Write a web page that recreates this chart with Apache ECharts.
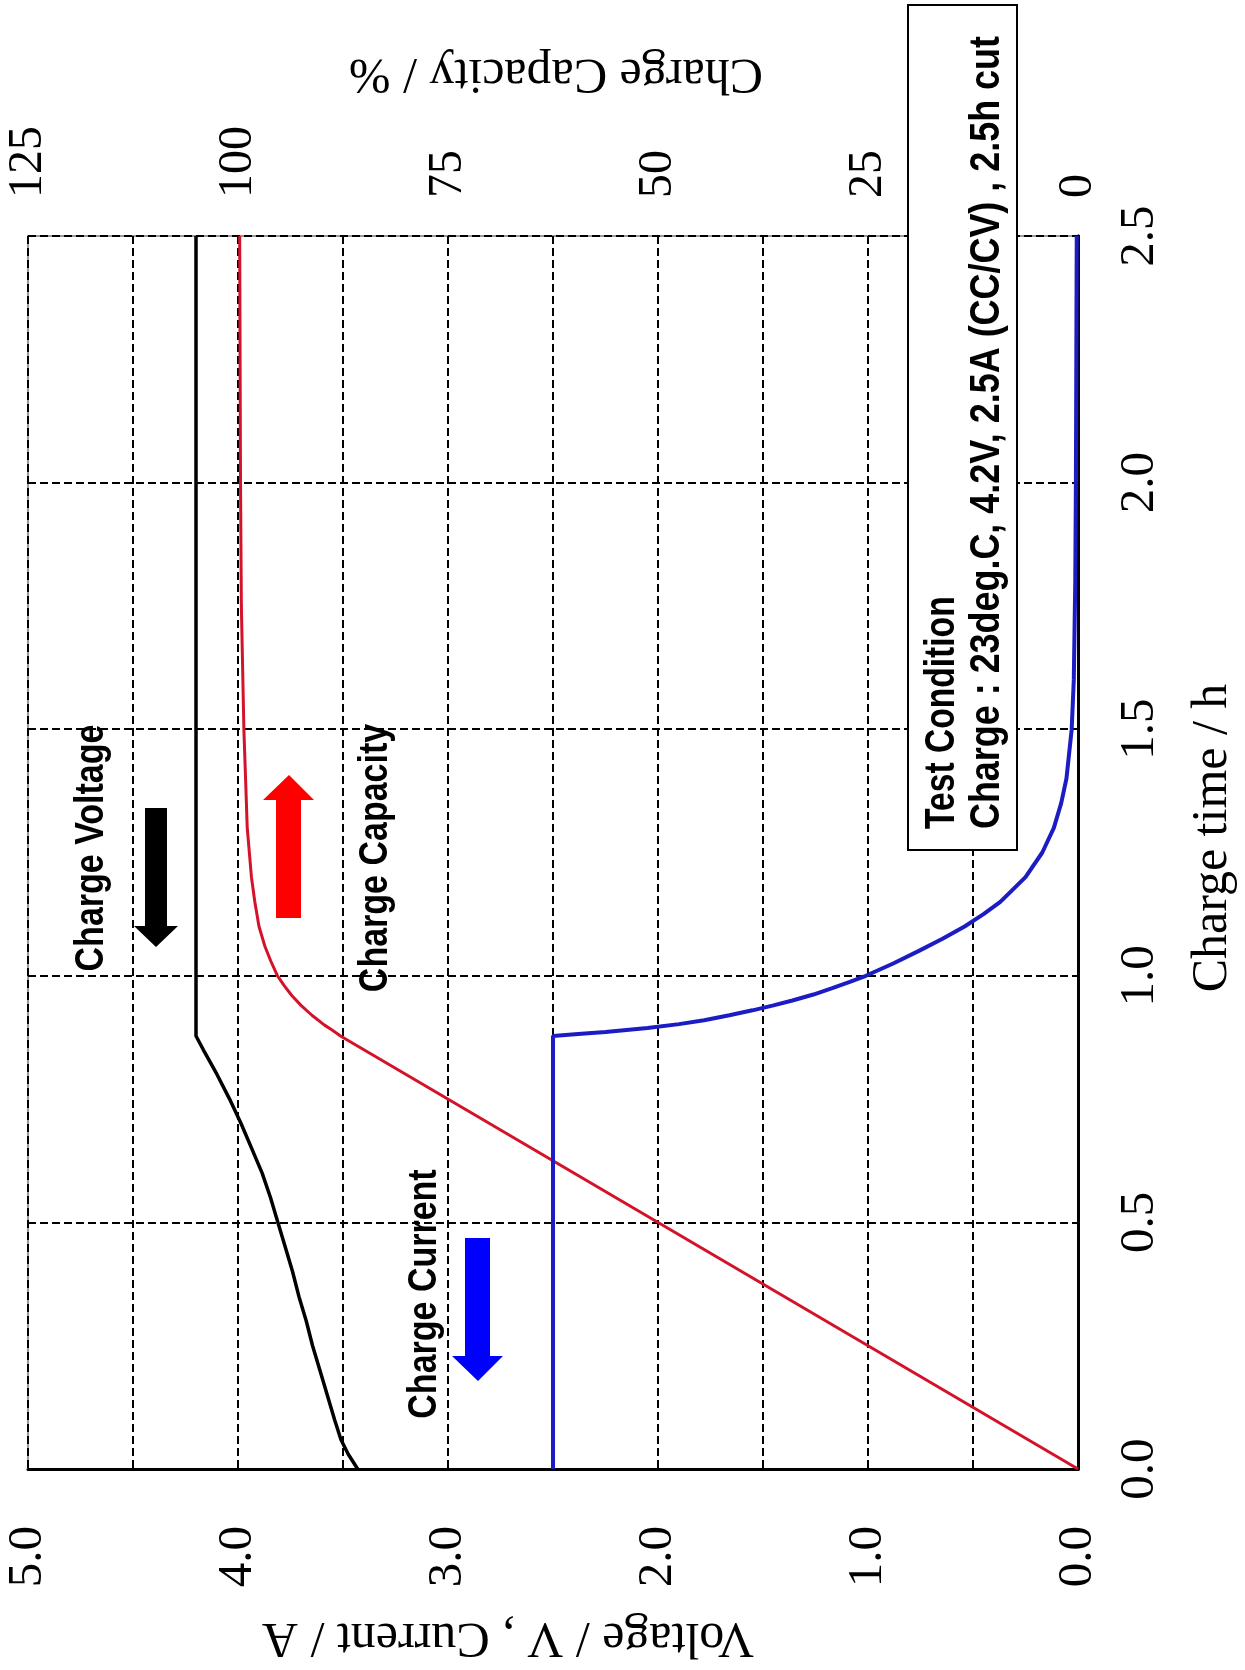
<!DOCTYPE html>
<html>
<head>
<meta charset="utf-8">
<script src="https://cdn.jsdelivr.net/npm/echarts@6/dist/echarts.min.js"></script>
<style>
html,body{margin:0;padding:0;background:#fff;}
#chart{width:1245px;height:1670px;}
</style>
</head>
<body>
<div id="chart"></div>
<script>
// ---- data (time in hours) ----
const timeV    = [0, 0.03, 0.06, 0.1, 0.15, 0.2, 0.25, 0.3, 0.35, 0.4, 0.45, 0.5, 0.55, 0.6, 0.65, 0.7, 0.75, 0.8, 0.85, 0.878, 2.5];
const voltage  = [3.43, 3.475, 3.51, 3.54, 3.575, 3.61, 3.645, 3.675, 3.71, 3.74, 3.775, 3.81, 3.845, 3.885, 3.935, 3.985, 4.04, 4.10, 4.165, 4.20, 4.20];

const timeI    = [0, 0.878, 0.882, 0.886, 0.894, 0.902, 0.91, 0.92, 0.93, 0.94, 0.95, 0.962, 0.975, 0.987, 1.0, 1.025, 1.05, 1.075, 1.1, 1.125, 1.15, 1.2, 1.25, 1.3, 1.35, 1.4, 1.5, 1.6, 1.8, 2.0, 2.5];
const current  = [2.5, 2.5, 2.38, 2.25, 2.05, 1.9, 1.78, 1.66, 1.55, 1.45, 1.36, 1.26, 1.17, 1.09, 1.01, 0.88, 0.76, 0.645, 0.54, 0.45, 0.37, 0.25, 0.17, 0.115, 0.08, 0.055, 0.03, 0.02, 0.013, 0.01, 0.006];

const timeC    = [0, 0.878, 0.89, 0.9, 0.92, 0.94, 0.96, 0.98, 1.0, 1.03, 1.06, 1.1, 1.15, 1.2, 1.3, 1.4, 1.5, 1.75, 2.0, 2.5];
const capacity = [0, 87.8, 88.8, 89.7, 91.2, 92.5, 93.6, 94.5, 95.3, 96.1, 96.8, 97.5, 98.0, 98.4, 98.9, 99.1, 99.3, 99.6, 99.7, 99.8];

const timeTickLabels     = ['0.0', '0.5', '1.0', '1.5', '2.0', '2.5'];
const voltageTickLabels  = ['0.0', '1.0', '2.0', '3.0', '4.0', '5.0'];
const capacityTickLabels = ['0', '25', '50', '75', '100', '125'];

const timeTitle     = 'Charge time / h';
const voltageTitle  = 'Voltage / V , Current / A';
const capacityTitle = 'Charge Capacity / %';
const boxLine1 = 'Test Condition';
const boxLine2 = 'Charge : 23deg.C, 4.2V, 2.5A (CC/CV) , 2.5h cut';

// ---- chart ----
const chart = echarts.init(document.getElementById('chart'), null, {renderer: 'canvas'});
const serif = '"Liberation Serif", "DejaVu Serif", serif';
const sans = '"Liberation Sans", Arial, sans-serif';
const dash = [8, 4];

function txt(x, y, rot, text, opt) {
  return Object.assign({
    type: 'text', x: x, y: y, rotation: rot, z: 101,
    style: Object.assign({
      text: text, x: 0, y: 0, fill: '#000',
      align: 'center', verticalAlign: 'middle',
      textAlign: 'center', textVerticalAlign: 'middle'
    }, opt.style || {})
  }, opt.el || {});
}

const option = {
  animation: false,
  backgroundColor: '#fff',
  grid: {
    left: 28, right: 167, top: 236, bottom: 201,
    containLabel: false, outerBoundsMode: 'none',
    show: true, borderColor: '#9a9a9a', borderWidth: 2, backgroundColor: 'transparent'
  },
  xAxis: [
    { // voltage / current (bottom)
      type: 'value', position: 'bottom', min: 0, max: 5, interval: 0.5, inverse: true,
      axisLine: {show: true, lineStyle: {color: '#000', width: 3}},
      axisTick: {show: false},
      splitLine: {show: true, lineStyle: {color: '#000', width: 2, type: dash}},
      axisLabel: {
        rotate: 90, margin: 57, fontFamily: serif, fontSize: 49, color: '#000',
        formatter: function (v) {
          const r = Math.round(v);
          return Math.abs(v - r) < 1e-6 ? voltageTickLabels[r] : '';
        }
      }
    },
    { // capacity (top)
      type: 'value', position: 'top', min: 0, max: 125, interval: 25, inverse: true,
      axisLine: {show: false}, axisTick: {show: false}, splitLine: {show: false},
      axisLabel: {
        rotate: 90, margin: 38, fontFamily: serif, fontSize: 48, color: '#000',
        formatter: function (v) { return capacityTickLabels[Math.round(v / 25)]; }
      }
    }
  ],
  yAxis: [
    { // time (right)
      type: 'value', position: 'right', min: 0, max: 2.5, interval: 0.5,
      axisLine: {show: true, lineStyle: {color: '#000', width: 3}},
      axisTick: {show: false},
      splitLine: {show: true, lineStyle: {color: '#000', width: 2, type: dash}},
      axisLabel: {
        rotate: 90, margin: 38, fontFamily: serif, fontSize: 49, color: '#000',
        formatter: function (v) { return timeTickLabels[Math.round(v / 0.5)]; }
      }
    },
    { // left frame line
      type: 'value', position: 'left', min: 0, max: 2.5, interval: 0.5,
      axisLine: {show: true, lineStyle: {color: '#000', width: 3}},
      axisTick: {show: false}, axisLabel: {show: false}, splitLine: {show: false}
    }
  ],
  series: [
    {
      name: 'Charge Voltage', type: 'line', xAxisIndex: 0, yAxisIndex: 0,
      data: timeV.map((t, i) => [voltage[i], t]),
      symbol: 'none', lineStyle: {color: '#000', width: 3.5}, z: 3
    },
    {
      name: 'Charge Capacity', type: 'line', xAxisIndex: 1, yAxisIndex: 0,
      data: timeC.map((t, i) => [capacity[i], t]),
      symbol: 'none', lineStyle: {color: '#d4122a', width: 3}, z: 4
    },
    {
      name: 'Charge Current', type: 'line', xAxisIndex: 0, yAxisIndex: 0,
      data: timeI.map((t, i) => [current[i], t]),
      symbol: 'none', lineStyle: {color: '#1c1cc4', width: 4}, z: 5
    }
  ],
  graphic: [
    // axis titles
    txt(1213, 838, Math.PI / 2, timeTitle, {style: {font: '50px ' + serif}}),
    txt(508, 1637, Math.PI, voltageTitle, {style: {font: '50px ' + serif}}),
    txt(556, 73, Math.PI, capacityTitle, {style: {font: '50px ' + serif}}),
    // curve annotations
    txt(92, 848, Math.PI / 2, 'Charge Voltage', {style: {font: 'bold 40px ' + sans}, el: {scaleX: 0.85}}),
    txt(376, 858, Math.PI / 2, 'Charge Capacity', {style: {font: 'bold 40px ' + sans}, el: {scaleX: 0.85}}),
    txt(425, 1294, Math.PI / 2, 'Charge Current', {style: {font: 'bold 40px ' + sans}, el: {scaleX: 0.85}}),
    // arrows
    {type: 'polygon', z: 100, shape: {points: [[145,808],[167,808],[167,926],[178,926],[156,947],[134,926],[145,926]]}, style: {fill: '#000'}},
    {type: 'polygon', z: 100, shape: {points: [[289,775],[314,800],[301,800],[301,918],[276,918],[276,800],[263,800]]}, style: {fill: '#ff0000'}},
    {type: 'polygon', z: 100, shape: {points: [[465,1238],[490,1238],[490,1356],[503,1356],[478,1381],[452,1356],[465,1356]]}, style: {fill: '#0000ff'}},
    // test condition box
    {type: 'rect', z: 100, shape: {x: 908, y: 5, width: 109, height: 845}, style: {fill: '#fff', stroke: '#000', lineWidth: 2}},
    txt(942, 829, Math.PI / 2, boxLine1, {style: {font: 'bold 42px ' + sans, align: 'left', textAlign: 'left'}, el: {scaleX: 0.8}}),
    txt(987, 829, Math.PI / 2, boxLine2, {style: {font: 'bold 42px ' + sans, align: 'left', textAlign: 'left'}, el: {scaleX: 0.855}})
  ]
};
chart.setOption(option);
</script>
</body>
</html>
